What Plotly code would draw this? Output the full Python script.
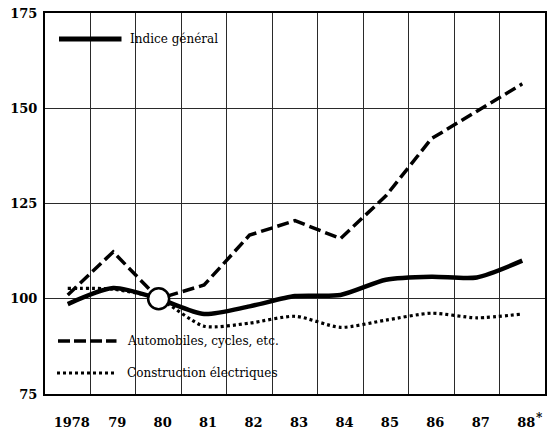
import plotly.graph_objects as go

# Indices de production (base 1980 = 100)
years = [1978, 1979, 1980, 1981, 1982, 1983, 1984, 1985, 1986, 1987, 1988]
year_labels = ["1978", "79", "80", "81", "82", "83", "84", "85", "86", "87", "88"]

indice_general = [98.6, 102.8, 100, 96.0, 98.0, 100.7, 101.0, 105.0, 105.8, 105.6, 110.0]
automobiles = [101.0, 112.3, 100, 103.6, 116.7, 120.5, 115.8, 127.0, 142.0, 149.1, 156.4]
construction_elec = [102.7, 102.5, 100, 92.8, 93.6, 95.4, 92.5, 94.4, 96.2, 95.0, 96.0]

y_ticks = [75, 100, 125, 150, 175]
base_year = 1980
base_value = 100

TICK_FONT = "DejaVu Serif"
KEY_FONT = "DejaVu Serif"
GRID = "#2a2a2a"

fig = go.Figure()

fig.add_trace(go.Scatter(
    x=years, y=automobiles, mode="lines",
    line=dict(color="black", width=3.5, dash="12px,5px"),
    name="Automobiles, cycles, etc."))
fig.add_trace(go.Scatter(
    x=years, y=construction_elec, mode="lines",
    line=dict(color="black", width=3.2, dash="3px,3px", shape="spline", smoothing=0.7),
    name="Construction électriques"))
fig.add_trace(go.Scatter(
    x=years, y=indice_general, mode="lines",
    line=dict(color="black", width=4.5, shape="spline", smoothing=0.7),
    name="Indice général"))
# base-year marker
fig.add_trace(go.Scatter(
    x=[base_year], y=[base_value], mode="markers",
    marker=dict(size=21, color="white", line=dict(color="black", width=2.5)),
    showlegend=False))

# white panels behind the key entries (hide the grid there)
fig.add_shape(type="rect", xref="paper", yref="paper", x0=0.003, x1=0.46, y0=0.877, y1=0.99,
              fillcolor="white", line_width=0, layer="between")
fig.add_shape(type="rect", xref="paper", yref="paper", x0=0.003, x1=0.45, y0=0.004, y1=0.16,
              fillcolor="white", line_width=0, layer="between")

# key: line samples + labels
keys = [
    (0.932, 0.028, 0.153, dict(color="black", width=5), "Indice général", 0.166),
    (0.139, 0.026, 0.143, dict(color="black", width=3.5, dash="12px,4px"), "Automobiles, cycles, etc.", 0.159),
    (0.055, 0.024, 0.143, dict(color="black", width=3, dash="3px,3px"), "Construction électriques", 0.159),
]
for yk, x0, x1, ln, label, xt in keys:
    fig.add_shape(type="line", xref="paper", yref="paper", x0=x0, x1=x1, y0=yk, y1=yk,
                  line=ln, layer="above")
    fig.add_annotation(xref="paper", yref="paper", x=xt, y=yk, text=label, showarrow=False,
                       xanchor="left", yanchor="middle",
                       font=dict(family=KEY_FONT, size=12, color="black"))

fig.add_annotation(xref="paper", yref="paper", x=0.988, y=-0.062, text="*", showarrow=False,
                   xanchor="center", yanchor="middle",
                   font=dict(family=TICK_FONT, size=12, color="black", weight="bold"))

fig.update_xaxes(
    range=[years[0] - 0.5, years[-1] + 0.5],
    tickmode="array", tickvals=years, ticktext=year_labels,
    showgrid=False, zeroline=False,
    minor=dict(tickvals=[y + 0.5 for y in years[:-1]], showgrid=True,
               gridcolor=GRID, gridwidth=1.2, ticks=""),
    showline=True, linecolor="black", linewidth=2.2, mirror=True,
    ticks="", ticklabelstandoff=15, ticklabelshift=4,
    tickfont=dict(family=TICK_FONT, size=13, color="black", weight="bold"),
)
fig.update_yaxes(
    range=[y_ticks[0], y_ticks[-1]],
    tickmode="array", tickvals=y_ticks,
    showgrid=True, gridcolor=GRID, gridwidth=1.2, zeroline=False,
    showline=True, linecolor="black", linewidth=2.2, mirror=True,
    ticks="", ticklabelstandoff=3,
    tickfont=dict(family=TICK_FONT, size=13, color="black", weight="bold"),
)

fig.update_layout(
    width=548, height=433,
    margin=dict(l=45, r=1, t=13, b=39),
    paper_bgcolor="white", plot_bgcolor="white",
    showlegend=False,
)

fig.write_html("out.html")
